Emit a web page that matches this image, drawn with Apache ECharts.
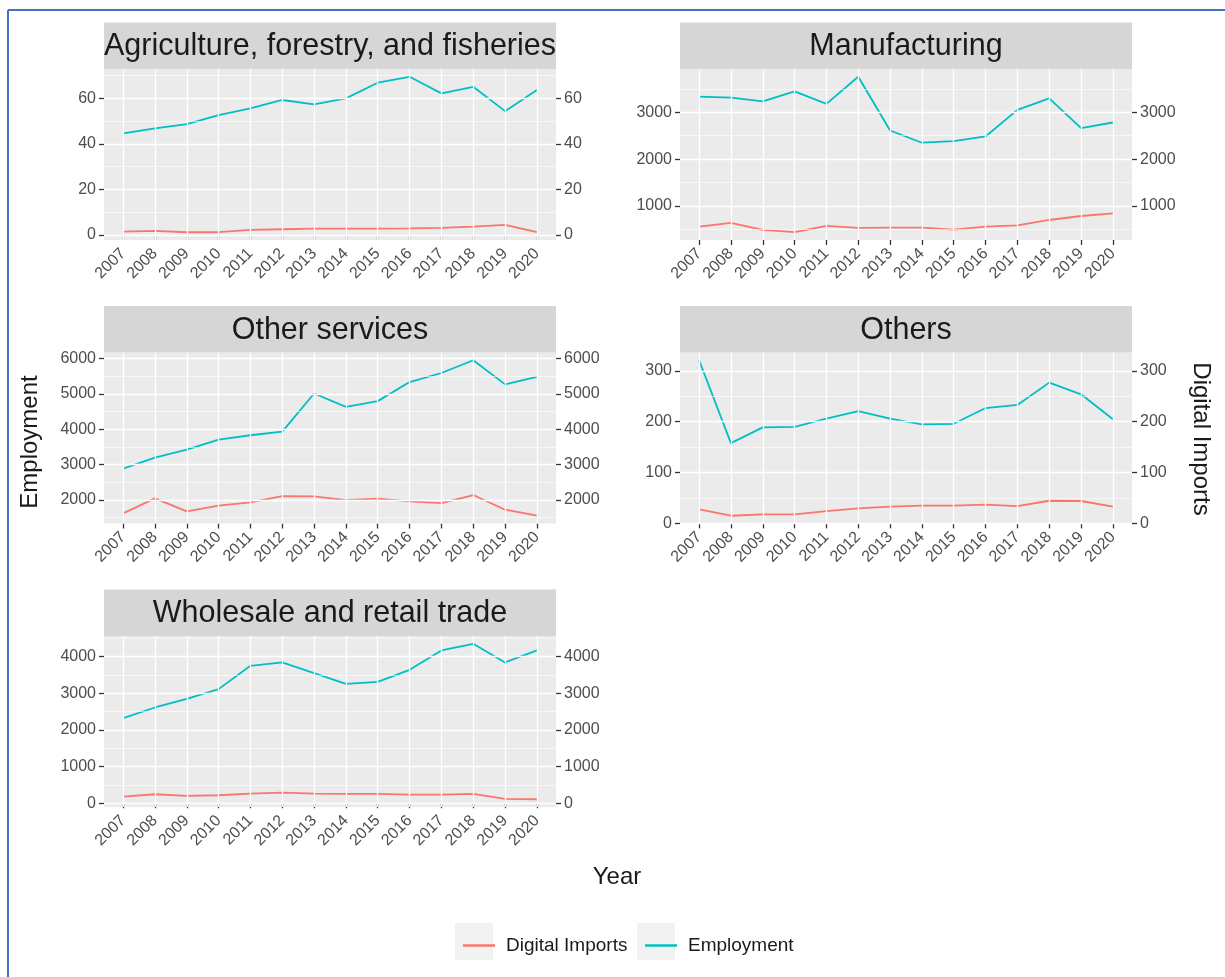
<!DOCTYPE html>
<html>
<head>
<meta charset="utf-8">
<script src="https://cdn.jsdelivr.net/npm/echarts@6/dist/echarts.min.js"></script>
<style>
html,body{margin:0;padding:0;background:#fff;}
#chart{width:1225px;height:977px;}
</style>
</head>
<body>
<div id="chart"></div>
<script>
// ---------- DATA ----------
const years = [2007, 2008, 2009, 2010, 2011, 2012, 2013, 2014, 2015, 2016, 2017, 2018, 2019, 2020];
const seriesNames = ['Digital Imports', 'Employment'];
const panelNames = ['Agriculture, forestry, and fisheries', 'Manufacturing', 'Other services', 'Others', 'Wholesale and retail trade'];

const agriEmployment = [44.6, 46.8, 48.7, 52.7, 55.6, 59.3, 57.4, 60.0, 66.9, 69.5, 62.2, 65.1, 54.4, 63.7];
const agriDigital    = [1.5, 1.8, 1.2, 1.2, 2.2, 2.5, 2.8, 2.8, 2.8, 2.9, 3.1, 3.7, 4.4, 1.2];

const manuEmployment = [3332, 3311, 3233, 3445, 3177, 3756, 2611, 2350, 2385, 2484, 3050, 3297, 2661, 2781];
const manuDigital    = [562, 640, 491, 442, 576, 534, 541, 541, 498, 562, 590, 703, 788, 845];

const otherServEmployment = [2887, 3199, 3426, 3709, 3832, 3936, 5014, 4636, 4797, 5338, 5593, 5953, 5272, 5480];
const otherServDigital    = [1622, 2047, 1678, 1839, 1934, 2113, 2104, 2000, 2038, 1962, 1915, 2142, 1726, 1556];

const othersEmployment = [321, 158, 189, 190, 206, 221, 206, 195, 196, 227, 233, 277, 254, 205];
const othersDigital    = [27.5, 15, 17.7, 17.7, 24, 29.5, 33, 35, 35, 37, 34, 44.5, 44, 33];

const wholesaleEmployment = [2318, 2609, 2845, 3109, 3745, 3836, 3545, 3255, 3309, 3636, 4164, 4345, 3836, 4164];
const wholesaleDigital    = [182, 245, 200, 218, 264, 291, 264, 255, 255, 236, 236, 255, 118, 109];

const agriTicks = [0, 20, 40, 60];
const manuTicks = [1000, 2000, 3000];
const otherServTicks = [2000, 3000, 4000, 5000, 6000];
const othersTicks = [0, 100, 200, 300];
const wholesaleTicks = [0, 1000, 2000, 3000, 4000];

// ---------- LAYOUT / STYLE ----------
const FONT = '"Liberation Sans", Arial, sans-serif';
const RED = '#F8766D', TEAL = '#00BFC4';
const PW = 452, PH = 171, STRIP = 46.5;
const positions = [
  {left: 104, top: 69}, {left: 680, top: 69},
  {left: 104, top: 352.5}, {left: 680, top: 352.5},
  {left: 104, top: 636}
];
const panelEmp = [agriEmployment, manuEmployment, otherServEmployment, othersEmployment, wholesaleEmployment];
const panelDig = [agriDigital, manuDigital, otherServDigital, othersDigital, wholesaleDigital];
const panelTicks = [agriTicks, manuTicks, otherServTicks, othersTicks, wholesaleTicks];

const grids = [], xAxes = [], yAxes = [], series = [], graphics = [];

panelNames.forEach((name, i) => {
  const pos = positions[i];
  const emp = panelEmp[i], dig = panelDig[i], ticks = panelTicks[i];
  const all = emp.concat(dig);
  const lo = Math.min(...all), hi = Math.max(...all);
  const pad = 0.05 * (hi - lo);
  const ymin = lo - pad, ymax = hi + pad;
  // minor breaks: midpoints between (extended) majors, inside limits
  const step = ticks[1] - ticks[0];
  const ext = [ticks[0] - step].concat(ticks, [ticks[ticks.length - 1] + step]);
  const minors = [];
  for (let k = 0; k < ext.length - 1; k++) {
    const m = (ext[k] + ext[k + 1]) / 2;
    if (m > ymin && m < ymax) minors.push(m);
  }

  grids.push({left: pos.left, top: pos.top, width: PW, height: PH, show: true,
    backgroundColor: '#EBEBEB', borderWidth: 0, containLabel: false});

  xAxes.push({
    type: 'value', gridIndex: i, min: 2006.4, max: 2020.6,
    axisLine: {show: false}, splitLine: {show: false},
    axisTick: {show: true, customValues: years, length: 5, lineStyle: {color: '#333333', width: 1.3}},
    axisLabel: {customValues: years, rotate: 45, margin: 11, color: '#4D4D4D', fontSize: 16,
      fontFamily: FONT, formatter: v => String(v)}
  });
  const yBase = {
    type: 'value', gridIndex: i, min: ymin, max: ymax,
    axisLine: {show: false}, splitLine: {show: false},
    axisTick: {show: true, customValues: ticks, length: 5, lineStyle: {color: '#333333', width: 1.3}},
    axisLabel: {customValues: ticks, margin: 8, color: '#4D4D4D', fontSize: 16, fontFamily: FONT,
      formatter: v => String(v)}
  };
  yAxes.push(Object.assign({}, yBase, {position: 'left'}));
  yAxes.push(Object.assign({}, yBase, {position: 'right'}));

  const lines = [];
  ticks.forEach(t => lines.push({yAxis: t, lineStyle: {color: '#FFFFFF', width: 1.3, type: 'solid'}}));
  minors.forEach(t => lines.push({yAxis: t, lineStyle: {color: '#FFFFFF', width: 0.6, type: 'solid'}}));
  years.forEach(t => lines.push({xAxis: t, lineStyle: {color: '#FFFFFF', width: 1.3, type: 'solid'}}));

  // helper series carrying the grid lines (invisible line)
  series.push({
    name: 'grid' + i, type: 'line', xAxisIndex: i, yAxisIndex: 2 * i,
    data: years.map((y, k) => [y, emp[k]]), showSymbol: false, symbol: 'none',
    lineStyle: {opacity: 0}, silent: true, z: 1,
    markLine: {silent: true, symbol: ['none', 'none'], label: {show: false}, animation: false,
      emphasis: {disabled: true}, data: lines}
  });
  series.push({
    name: seriesNames[0], type: 'line', xAxisIndex: i, yAxisIndex: 2 * i,
    data: years.map((y, k) => [y, dig[k]]), symbol: 'none', showSymbol: false,
    lineStyle: {color: RED, width: 1.8}, itemStyle: {color: RED}, z: 3
  });
  series.push({
    name: seriesNames[1], type: 'line', xAxisIndex: i, yAxisIndex: 2 * i,
    data: years.map((y, k) => [y, emp[k]]), symbol: 'none', showSymbol: false,
    lineStyle: {color: TEAL, width: 1.8}, itemStyle: {color: TEAL}, z: 3
  });

  // strip
  graphics.push({type: 'rect', shape: {x: pos.left, y: pos.top - STRIP, width: PW, height: STRIP},
    style: {fill: '#D6D6D6'}, z: 0});
  graphics.push({type: 'text', x: pos.left + PW / 2, y: pos.top - STRIP / 2 + 1,
    style: {text: name, align: 'center', verticalAlign: 'middle', fill: '#1A1A1A',
      font: '30.5px ' + FONT}, z: 1});
});

// border of picture
graphics.push({type: 'line', shape: {x1: 8, y1: 10, x2: 1225, y2: 10}, style: {stroke: '#4472C4', lineWidth: 2}});
graphics.push({type: 'line', shape: {x1: 8, y1: 10, x2: 8, y2: 977}, style: {stroke: '#4472C4', lineWidth: 2}});
// axis titles
graphics.push({type: 'text', x: 30, y: 442, rotation: Math.PI / 2,
  style: {text: 'Employment', align: 'center', verticalAlign: 'middle', fill: '#1A1A1A', font: '24px ' + FONT}});
graphics.push({type: 'text', x: 1201, y: 439, rotation: -Math.PI / 2,
  style: {text: 'Digital Imports', align: 'center', verticalAlign: 'middle', fill: '#1A1A1A', font: '24px ' + FONT}});
graphics.push({type: 'text', x: 617, y: 877,
  style: {text: 'Year', align: 'center', verticalAlign: 'middle', fill: '#1A1A1A', font: '24px ' + FONT}});
// legend key backgrounds
graphics.push({type: 'rect', shape: {x: 455, y: 923, width: 38, height: 37}, style: {fill: '#F2F2F2'}, z: 0});
graphics.push({type: 'rect', shape: {x: 637, y: 923, width: 38, height: 37}, style: {fill: '#F2F2F2'}, z: 0});

const legendBase = {
  orient: 'horizontal', top: 931, itemWidth: 32, itemHeight: 2.5, icon: 'rect',
  textStyle: {fontSize: 19, fontFamily: FONT, color: '#1A1A1A', padding: [0, 0, 0, 6]},
  selectedMode: false
};

const option = {
  animation: false,
  backgroundColor: '#FFFFFF',
  grid: grids, xAxis: xAxes, yAxis: yAxes, series: series,
  legend: [
    Object.assign({}, legendBase, {left: 458, data: [{name: seriesNames[0], itemStyle: {color: RED}}]}),
    Object.assign({}, legendBase, {left: 640, data: [{name: seriesNames[1], itemStyle: {color: TEAL}}]})
  ],
  graphic: graphics
};

const chart = echarts.init(document.getElementById('chart'), null, {renderer: 'canvas'});
chart.setOption(option);
</script>
</body>
</html>
